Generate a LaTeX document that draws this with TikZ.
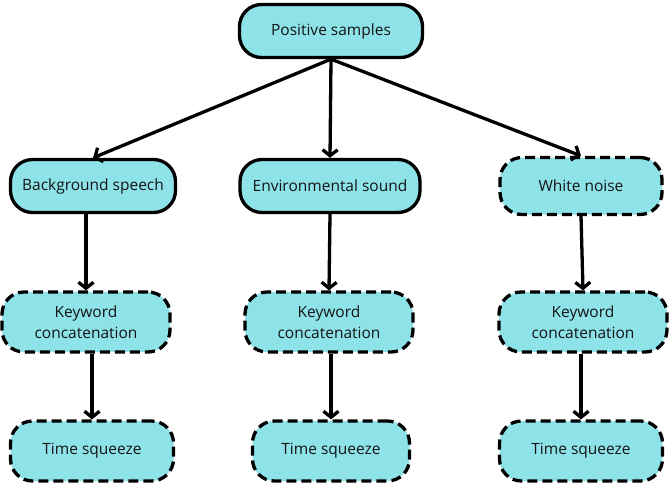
\documentclass[tikz,border=0pt]{standalone}
\usepackage{fontspec}
\setmainfont{Open Sans}
\usetikzlibrary{arrows.meta}
\definecolor{boxfill}{RGB}{142,227,233}
\definecolor{txt}{RGB}{20,20,20}
\tikzset{
  box/.style={draw=black, line width=3.3pt, fill=boxfill, rectangle, rounded corners=22pt, minimum height=#1, inner sep=0pt, text=txt, font=\fontsize{15.5}{21}\selectfont, align=center},
  box/.default=53pt,
  dbox/.style={box=#1, dash pattern=on 10pt off 5pt},
  dbox/.default=60pt,
  arr/.style={line width=3.3pt, -{Straight Barb[length=6pt,width=15pt,line width=3.3pt]}}
}
\begin{document}
\begin{tikzpicture}[x=1pt,y=-1pt]
\useasboundingbox (0,0) rectangle (671,483);
\node[box, minimum width=183pt] (pos) at (331,31) {Positive samples};
\node[box, minimum width=165pt] (bg) at (93,186) {Background speech};
\node[box, minimum width=180pt] (env) at (330,186) {Environmental sound};
\node[dbox=57pt, minimum width=162pt] (wn) at (581,186) {White noise};
\node[dbox, minimum width=168pt] (kw1) at (86,322) {Keyword\\concatenation};
\node[dbox, minimum width=168pt] (kw2) at (329,322) {Keyword\\concatenation};
\node[dbox, minimum width=168pt] (kw3) at (583,322) {Keyword\\concatenation};
\node[dbox, minimum width=163pt] (ts1) at (92,451) {Time squeeze};
\node[dbox, minimum width=157pt] (ts2) at (331,451) {Time squeeze};
\node[dbox, minimum width=163pt] (ts3) at (581,451) {Time squeeze};
\coordinate (o) at (pos.south);
\draw[arr] (o) -- (bg.north);
\draw[arr] (o) -- (env.north);
\draw[arr] (o) -- (wn.north);
\draw[arr] (kw1.north |- bg.south) -- (kw1.north);
\draw[arr] (env.south) -- (kw2.north);
\draw[arr] (wn.south) -- (kw3.north);
\draw[arr] (ts1.north |- kw1.south) -- (ts1.north);
\draw[arr] (ts2.north |- kw2.south) -- (ts2.north);
\draw[arr] (ts3.north |- kw3.south) -- (ts3.north);
\end{tikzpicture}
\end{document}
